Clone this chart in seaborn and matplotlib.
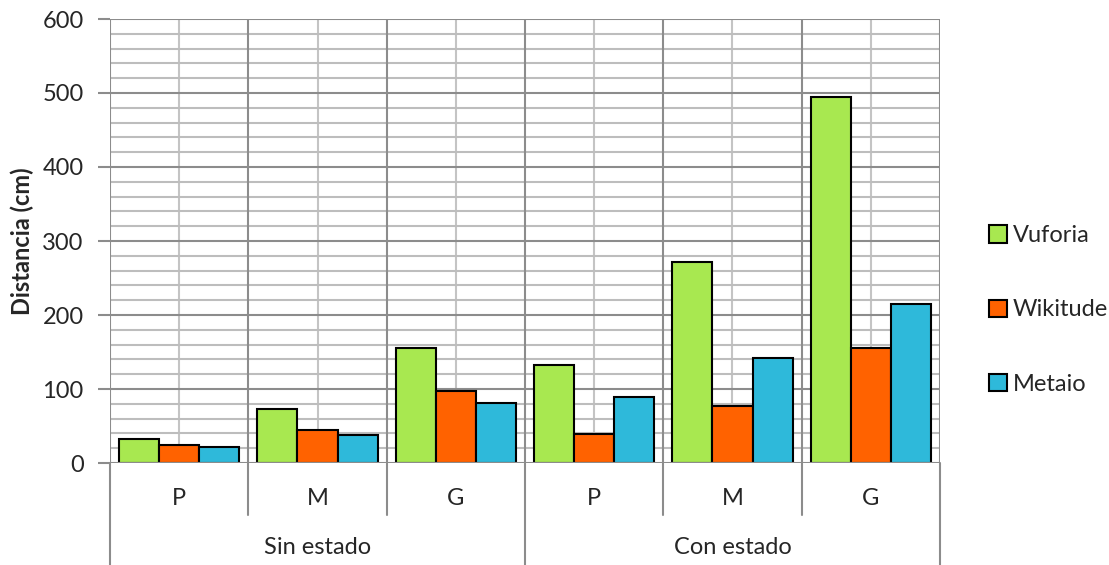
import pandas as pd
import matplotlib.pyplot as plt
import matplotlib.transforms as mtransforms
import seaborn as sns

# Data
estados = ['Sin estado', 'Con estado']
tamanos = ['P', 'M', 'G']
sistemas = ['Vuforia', 'Wikitude', 'Metaio']
vuforia = [32, 73, 155, 132, 272, 495]
wikitude = [24, 45, 97, 39, 77, 155]
metaio = [22, 38, 81, 89, 142, 215]
colores = ['#A8E850', '#FF6200', '#2EB9DA']

# Long-form table for seaborn
cats = [f'{e}|{t}' for e in estados for t in tamanos]
rows = []
for nombre, vals in zip(sistemas, [vuforia, wikitude, metaio]):
    for c, v in zip(cats, vals):
        rows.append({'cat': c, 'sistema': nombre, 'distancia': v})
data = pd.DataFrame(rows)

sns.set_style('white')
plt.rcParams['font.family'] = ['Lato', 'DejaVu Sans']
plt.rcParams['font.size'] = 17

fig = plt.figure(figsize=(11.09, 5.65), dpi=100)
ax = fig.add_axes([110 / 1109, 1 - 463 / 565, 830 / 1109, 444 / 565])

sns.barplot(data=data, x='cat', y='distancia', hue='sistema', order=cats,
            hue_order=sistemas, palette=colores, width=0.87,
            edgecolor='black', linewidth=1.5, saturation=1, ax=ax,
            legend=True, zorder=3)

n = len(cats)
ax.set_xlim(-0.5, n - 0.5)
ax.set_ylim(0, 600)
ax.set_yticks(range(0, 601, 100))
ax.set_yticks(range(0, 601, 20), minor=True)

# gridlines: horizontal major/minor, vertical at boundaries/centers
for y in range(20, 601, 20):
    major = y % 100 == 0
    ax.axhline(y, color='#8c8c8c' if major else '#bdbdbd', lw=1.5, zorder=1)
for i in range(n + 1):
    ax.axvline(i - 0.5, color='#8c8c8c', lw=1.5, zorder=1)
for i in range(n):
    ax.axvline(i, color='#c4c4c4', lw=1.5, zorder=0.9)
ax.axhline(0, color='#8c8c8c', lw=1.5, zorder=4)

for s in ax.spines.values():
    s.set_visible(False)

ax.tick_params(axis='y', which='major', left=True, length=9, width=1.5,
               color='#8c8c8c', pad=10)
ax.tick_params(axis='y', which='minor', left=False)
ax.set_xticks([])
ax.set_xlabel('')
ax.set_ylabel('Distancia (cm)', fontweight='bold', labelpad=6)

# two-level category axis
trans = mtransforms.blended_transform_factory(ax.transData, ax.transAxes)
for i in range(n + 1):
    x = i - 0.5
    outer = i % 3 == 0
    ax.plot([x, x], [0, -0.235 if outer else -0.117], transform=trans,
            color='#8c8c8c', lw=1.5, clip_on=False)
for i, c in enumerate(cats):
    ax.text(i, -0.079, c.split('|')[1], transform=trans, ha='center',
            va='center')
for j, e in enumerate(estados):
    ax.text(3 * j + 1, -0.19, e, transform=trans, ha='center', va='center')

ax.get_legend().remove()
handles, labels = ax.get_legend_handles_labels()
fig.legend(handles[:3], labels[:3], loc='center left',
           bbox_to_anchor=(980 / 1109, 1 - 310 / 565), frameon=False,
           handlelength=0.75, handleheight=0.75, handletextpad=0.25,
           labelspacing=2.25, borderaxespad=0)

fig.savefig('out.png', dpi=100)
